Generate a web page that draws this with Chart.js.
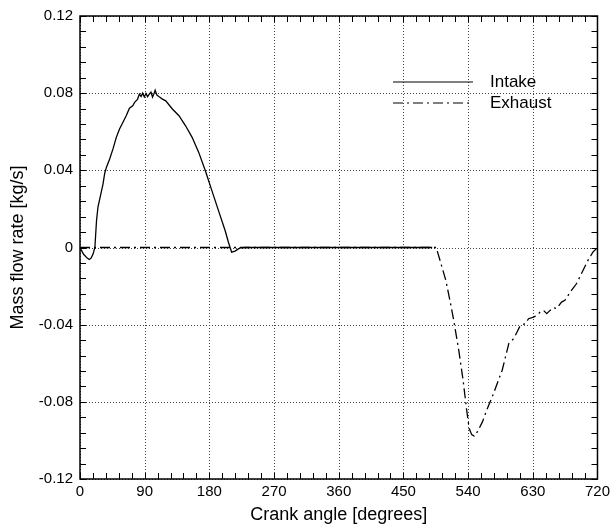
<!DOCTYPE html>
<html>
<head>
<meta charset="utf-8">
<script src="https://cdn.jsdelivr.net/npm/chart.js@4/dist/chart.umd.min.js"></script>
<style>
  html, body { margin: 0; padding: 0; background: #fff; }
  #wrap { width: 614px; height: 526px; }
</style>
</head>
<body>
<div id="wrap"><canvas id="flowChart" width="614" height="526"></canvas></div>
<script>
// crank angle [deg] and mass flow [kg/s]
const intakeAngle = [0, 5, 10, 12.8, 15.5, 18.3, 20.7, 23, 25, 27.5, 32, 34.4, 36.7, 41.3, 45.9, 50.5, 55, 59.6, 64.3, 68.8,
  73.4, 76, 78, 80, 82.6, 85, 87.2, 89.5, 91.8, 94, 96.4, 98.7, 100.9, 103, 104.6, 107, 110.1, 114.7, 119.3, 128.5,
  137.7, 146.9, 156, 165.2, 174.4, 183.5, 192.7, 201.9, 206.5, 211, 215.7, 222.6, 229.5, 240, 490];
const intakeFlow = [0, -0.0035, -0.0055, -0.0062, -0.0055, -0.0033, 0, 0.014, 0.021, 0.0252, 0.0329, 0.0385, 0.0415, 0.0459, 0.0511, 0.0571, 0.0614, 0.0648, 0.0683, 0.0722,
  0.0735, 0.0752, 0.0760, 0.0768, 0.0795, 0.0783, 0.0800, 0.0780, 0.0798, 0.0782, 0.0795, 0.0806, 0.0780, 0.0798, 0.0815, 0.0790, 0.0781, 0.0769, 0.0760, 0.0718,
  0.0683, 0.0631, 0.0571, 0.0493, 0.0398, 0.0295, 0.0191, 0.0088, 0.0027, -0.0024, -0.0019, -0.0002, 0, 0, 0];

const exhaustAngle = [0, 495.6, 502, 509, 515, 520, 527, 533, 538, 541.5, 545, 548.4, 553, 559.9, 566.8, 573.6, 580.5, 587.4, 592, 596.6,
  603.5, 608.1, 612.6, 619.5, 624.1, 631, 635.6, 640.2, 644.8, 649.4, 654, 658.5, 663.1, 670, 674.6, 679.2, 683.8, 690.7, 695.2, 699.8,
  706.7, 713.6, 720];
const exhaustFlow = [0, 0, -0.008, -0.0171, -0.028, -0.0378, -0.0533, -0.0688, -0.0843, -0.0938, -0.0970, -0.0978, -0.0955, -0.0904, -0.0834, -0.0774, -0.0705, -0.0636, -0.0567, -0.0498,
  -0.0472, -0.0438, -0.0404, -0.0395, -0.0369, -0.0361, -0.0352, -0.0335, -0.0326, -0.0343, -0.0326, -0.0312, -0.0317, -0.0283, -0.0274, -0.0248, -0.0222, -0.0188, -0.0154, -0.0119,
  -0.0067, -0.0024, 0];

const xTicks = [0, 90, 180, 270, 360, 450, 540, 630, 720];
const yTicks = ['-0.12', '-0.08', '-0.04', '0', '0.04', '0.08', '0.12'];
const seriesNames = ['Intake', 'Exhaust'];

const FONT = '"Liberation Sans", Arial, sans-serif';
const exhaustDash = [10, 4, 2, 4];

function toPoints(xs, ys) {
    return xs.map((x, i) => ({ x: x, y: ys[i] }));
}

// dotted grid under the curves
const gridPlugin = {
    id: 'dotgrid',
    beforeDatasetsDraw(chart) {
        const { ctx, chartArea: a, scales } = chart;
        ctx.save();
        ctx.strokeStyle = '#444';
        ctx.lineWidth = 1;
        ctx.setLineDash([1, 2]);
        ctx.beginPath();
        xTicks.forEach(v => {
            const px = Math.round(scales.x.getPixelForValue(v)) + 0.5;
            ctx.moveTo(px, a.top); ctx.lineTo(px, a.bottom);
        });
        yTicks.forEach(t => {
            const py = Math.round(scales.y.getPixelForValue(parseFloat(t))) + 0.5;
            ctx.moveTo(a.left, py); ctx.lineTo(a.right, py);
        });
        ctx.stroke();
        ctx.restore();
    }
};

// frame, inward minor ticks and the little legend inside the plot
const framePlugin = {
    id: 'frame',
    afterDraw(chart) {
        const { ctx, chartArea: a, scales } = chart;
        const xs = scales.x, ys = scales.y;
        ctx.save();
        ctx.strokeStyle = '#000';
        ctx.lineWidth = 1;
        ctx.beginPath();
        for (let v = 0; v <= 720; v += 18) {
            const px = Math.round(xs.getPixelForValue(v)) + 0.5;
            ctx.moveTo(px, a.bottom); ctx.lineTo(px, a.bottom - 6);
            ctx.moveTo(px, a.top); ctx.lineTo(px, a.top + 6);
        }
        for (let i = -15; i <= 15; i++) {
            const py = Math.round(ys.getPixelForValue(i * 0.008)) + 0.5;
            ctx.moveTo(a.left, py); ctx.lineTo(a.left + 6, py);
            ctx.moveTo(a.right, py); ctx.lineTo(a.right - 6, py);
        }
        ctx.stroke();
        ctx.lineWidth = 1.5;
        ctx.strokeRect(a.left, a.top, a.right - a.left, a.bottom - a.top);

        // legend
        ctx.lineWidth = 1.2;
        ctx.font = '17px ' + FONT;
        ctx.fillStyle = '#000';
        ctx.textBaseline = 'middle';
        ctx.textAlign = 'left';
        const lx0 = 393, lx1 = 473, ly = [82, 103];
        seriesNames.forEach((name, i) => {
            ctx.setLineDash(i === 0 ? [] : exhaustDash);
            ctx.beginPath();
            ctx.moveTo(lx0, ly[i]); ctx.lineTo(lx1, ly[i]);
            ctx.stroke();
            ctx.fillText(name, 490, ly[i]);
        });
        ctx.restore();
    }
};

const ctx = document.getElementById('flowChart').getContext('2d');
new Chart(ctx, {
    type: 'line',
    data: {
        datasets: [{
            label: seriesNames[0],
            data: toPoints(intakeAngle, intakeFlow),
            borderColor: '#000',
            borderWidth: 1.3,
            pointRadius: 0,
            tension: 0,
            fill: false
        }, {
            label: seriesNames[1],
            data: toPoints(exhaustAngle, exhaustFlow),
            borderColor: '#000',
            borderWidth: 1.3,
            borderDash: exhaustDash,
            pointRadius: 0,
            tension: 0,
            fill: false
        }]
    },
    options: {
        responsive: false,
        animation: false,
        layout: { padding: { left: 0, right: 11, top: 15, bottom: 0 } },
        plugins: {
            legend: { display: false },
            tooltip: { enabled: false }
        },
        scales: {
            x: {
                type: 'linear',
                min: 0,
                max: 720,
                afterBuildTicks: (s) => { s.ticks = xTicks.map(v => ({ value: v })); },
                afterFit: (s) => { s.height = 47; },
                ticks: { color: '#000', font: { family: FONT, size: 15 }, padding: 4, maxRotation: 0 },
                grid: { display: false, drawTicks: false },
                border: { display: false },
                title: { display: true, text: 'Crank angle [degrees]', color: '#000', font: { family: FONT, size: 18 }, padding: { top: 1, bottom: 0 } }
            },
            y: {
                type: 'linear',
                min: -0.12,
                max: 0.12,
                afterBuildTicks: (s) => { s.ticks = yTicks.map(t => ({ value: parseFloat(t) })); },
                afterFit: (s) => { s.width = 80; },
                ticks: {
                    color: '#000',
                    font: { family: FONT, size: 15 },
                    padding: 7,
                    callback: (v) => yTicks.find(t => Math.abs(parseFloat(t) - v) < 1e-9)
                },
                grid: { display: false, drawTicks: false },
                border: { display: false },
                title: { display: true, text: 'Mass flow rate [kg/s]', color: '#000', font: { family: FONT, size: 18 }, padding: { top: 7, bottom: 0 } }
            }
        }
    },
    plugins: [gridPlugin, framePlugin]
});
</script>
</body>
</html>
